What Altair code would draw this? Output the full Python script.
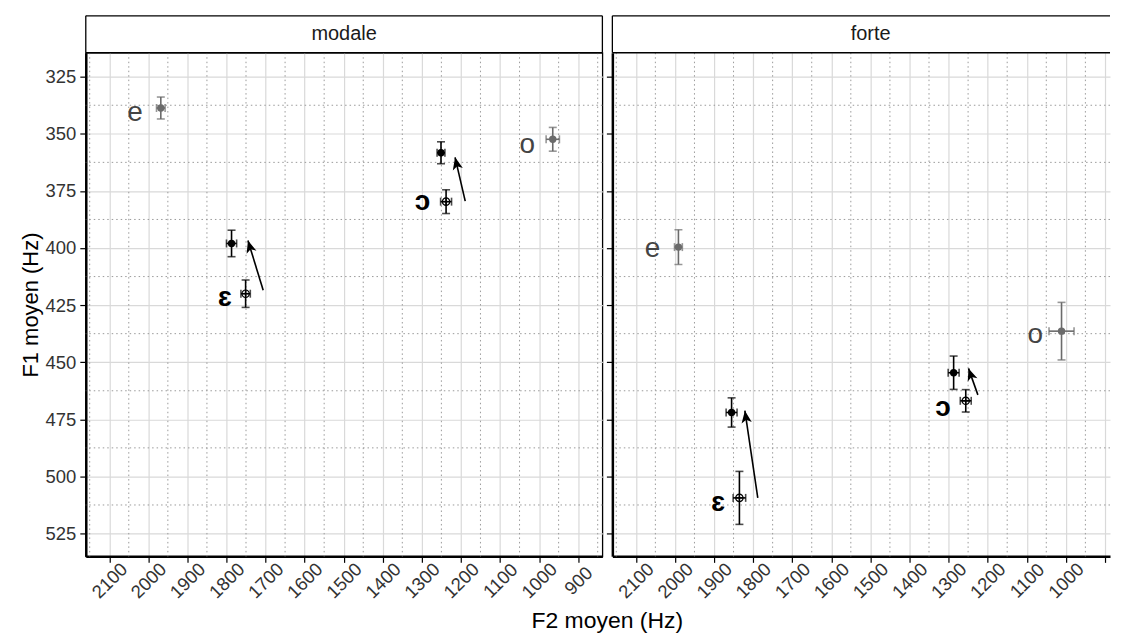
import math
import altair as alt
import pandas as pd

# ---------------- data ----------------
PANELS = ["modale", "forte"]

PT_PANEL = ["modale"] * 6 + ["forte"] * 6
PT_VOWEL = ["e", "o", "ɔ", "ɔ", "ɛ", "ɛ", "e", "o", "ɔ", "ɔ", "ɛ", "ɛ"]
PT_KIND = ["seul", "seul", "fin", "debut", "fin", "debut",
           "seul", "seul", "fin", "debut", "fin", "debut"]
PT_F2 = [1968, 965, 1251, 1238, 1787, 1751, 1991, 1011, 1287, 1256, 1855, 1835]
PT_F1 = [338.7, 352.4, 358.3, 379.7, 398.0, 420.0, 399.6, 436.4, 454.6, 466.9, 472.0, 509.4]
PT_F2_ERR = [11, 17, 10, 14, 13, 12, 10, 32, 14, 14, 14, 16]
PT_F1_ERR = [4.8, 5.2, 4.8, 5.2, 5.8, 6.0, 7.6, 12.6, 7.3, 4.9, 6.4, 11.6]

LB_PANEL = ["modale"] * 4 + ["forte"] * 4
LB_TEXT = ["e", "o", "ɔ", "ɛ", "e", "o", "ɔ", "ɛ"]
LB_F2 = [2034, 1030, 1298, 1804, 2057, 1078, 1314, 1889]
LB_F1 = [340.7, 354.7, 380.0, 421.9, 400.3, 438.1, 469.9, 511.6]

AR_PANEL = ["modale", "modale", "forte", "forte"]
AR_F2_FROM = [1706, 1189, 1788, 1225]
AR_F1_FROM = [418.5, 379.5, 509.4, 464.3]
AR_F2_TO = [1745, 1215, 1821, 1249]
AR_F1_TO = [396.7, 360.3, 471.2, 452.7]

X_TICKS = [2100, 2000, 1900, 1800, 1700, 1600, 1500, 1400, 1300, 1200, 1100, 1000, 900]
X_MINOR = [2150, 2050, 1950, 1850, 1750, 1650, 1550, 1450, 1350, 1250, 1150, 1050, 950, 850]
Y_TICKS = [325, 350, 375, 400, 425, 450, 475, 500, 525]
Y_MINOR = [337.5, 362.5, 387.5, 412.5, 437.5, 462.5, 487.5, 512.5]
X_DOMAIN = [838, 2160]
X_DOMAIN_CUT = [887, 2160]   # right panel is cut by the picture's right edge
Y_DOMAIN = [314.5, 535]

# ---------------- styling ----------------
W, H = 518, 505
W_CUT = 499
STRIP_H = 37
FONT = "Liberation Sans, Arial, DejaVu Sans"
KIND_DOMAIN = ["seul", "fin", "debut"]
KIND_COLORS = ["#6b6b6b", "black", "black"]
OPEN_SHAPE = "M-1,0A1,1,0,1,0,1,0A1,1,0,1,0,-1,0ZM-1,0L1,0M0,-1L0,1"
HEAD_SHAPE = "M0,0L0.42,1L0,0.75L-0.42,1Z"

pts = pd.DataFrame(dict(panel=PT_PANEL, vowel=PT_VOWEL, kind=PT_KIND,
                        f2=PT_F2, f1=PT_F1, e2=PT_F2_ERR, e1=PT_F1_ERR))
pts["f1lo"] = pts["f1"] - pts["e1"]
pts["f1hi"] = pts["f1"] + pts["e1"]
pts["f2lo"] = pts["f2"] - pts["e2"]
pts["f2hi"] = pts["f2"] + pts["e2"]

lbl = pd.DataFrame(dict(panel=LB_PANEL, text=LB_TEXT, f2=LB_F2, f1=LB_F1))

arr = pd.DataFrame(dict(panel=AR_PANEL, f2a=AR_F2_FROM, f1a=AR_F1_FROM,
                        f2b=AR_F2_TO, f1b=AR_F1_TO))
px_x = W / (X_DOMAIN[1] - X_DOMAIN[0])
px_y = H / (Y_DOMAIN[1] - Y_DOMAIN[0])


def _ang(r):
    dx = -(r.f2b - r.f2a) * px_x
    dy = (r.f1b - r.f1a) * px_y
    return math.degrees(math.atan2(dx, -dy)) % 360


arr["ang"] = arr.apply(_ang, axis=1)

ys = alt.Scale(domain=Y_DOMAIN, reverse=True, nice=False, zero=False)
cs = alt.Scale(domain=KIND_DOMAIN, range=KIND_COLORS)


def panel(name, first):
    width = W if first else W_CUT
    dom = X_DOMAIN if first else X_DOMAIN_CUT
    xs = alt.Scale(domain=dom, reverse=True, nice=False, zero=False)
    x_axis = alt.Axis(values=X_TICKS, title=None, labelAngle=315, labelAlign="center",
                      labelBaseline="middle", labelPadding=18, grid=True, format="d",
                      labelOverlap=False, labelFlush=False,
                      labelExpr="datum.label" if first else "datum.value == 900 ? '' : datum.label")
    y_axis = alt.Axis(values=Y_TICKS, title="F1 moyen (Hz)" if first else None,
                      labels=first, grid=True, format="d", labelPadding=4,
                      titlePadding=3, labelFlush=False)

    def X(f):
        return alt.X(f, type="quantitative", scale=xs, axis=x_axis)

    def Y(f):
        return alt.Y(f, type="quantitative", scale=ys, axis=y_axis)

    p = pts[pts["panel"] == name]
    pl = lbl[lbl["panel"] == name]
    pa = arr[arr["panel"] == name]
    color = alt.Color("kind:N", scale=cs, legend=None)

    xm = [v for v in X_MINOR if dom[0] <= v <= dom[1]]
    minor_x = alt.Chart(pd.DataFrame({"v": xm})).mark_rule(
        color="#9a9a9a", strokeWidth=1, strokeDash=[1.5, 3]).encode(x=X("v"))
    minor_y = alt.Chart(pd.DataFrame({"v": Y_MINOR})).mark_rule(
        color="#9a9a9a", strokeWidth=1, strokeDash=[1.5, 3]).encode(y=Y("v"))

    base = alt.Chart(p)
    lw = 1.6
    vbar = base.mark_rule(strokeWidth=lw).encode(x=X("f2"), y=Y("f1lo"), y2="f1hi", color=color)
    vcap1 = base.mark_tick(orient="horizontal", size=8, thickness=lw).encode(x=X("f2"), y=Y("f1lo"), color=color)
    vcap2 = base.mark_tick(orient="horizontal", size=8, thickness=lw).encode(x=X("f2"), y=Y("f1hi"), color=color)
    hbar = base.mark_rule(strokeWidth=lw).encode(y=Y("f1"), x=X("f2lo"), x2="f2hi", color=color)
    hcap1 = base.mark_tick(orient="vertical", size=8, thickness=lw).encode(y=Y("f1"), x=X("f2lo"), color=color)
    hcap2 = base.mark_tick(orient="vertical", size=8, thickness=lw).encode(y=Y("f1"), x=X("f2hi"), color=color)

    filled = alt.Chart(p[p["kind"] != "debut"]).mark_point(
        filled=True, shape="circle", size=55, opacity=1).encode(x=X("f2"), y=Y("f1"), color=color)
    opened = alt.Chart(p[p["kind"] == "debut"]).mark_point(
        filled=False, shape=OPEN_SHAPE, size=55, strokeWidth=1.2, opacity=1, color="black").encode(
        x=X("f2"), y=Y("f1"))

    arrow = alt.Chart(pa).mark_rule(strokeWidth=1.6, color="black").encode(
        x=X("f2a"), y=Y("f1a"), x2="f2b", y2="f1b")
    head = alt.Chart(pa).mark_point(shape=HEAD_SHAPE, filled=True, size=600, opacity=1,
                                    color="black").encode(
        x=X("f2b"), y=Y("f1b"), angle=alt.Angle("ang:Q", scale=None))

    txt_dark = alt.Chart(pl[pl["text"].isin(["ɛ", "ɔ"])]).mark_text(
        fontSize=28, fontWeight="bold", color="black", font=FONT, baseline="middle").encode(
        x=X("f2"), y=Y("f1"), text="text:N")
    txt_grey = alt.Chart(pl[pl["text"].isin(["e", "o"])]).mark_text(
        fontSize=28, color="#444444", font=FONT, baseline="middle").encode(
        x=X("f2"), y=Y("f1"), text="text:N")

    sdf = pd.DataFrame({"label": [name]})
    strip_bg = alt.Chart(sdf).mark_rect(fill="white").encode(
        x=alt.value(0), x2=alt.value(width), y=alt.value(-STRIP_H), y2=alt.value(0))
    strip_top = alt.Chart(sdf).mark_rule(color="black", strokeWidth=1.3).encode(
        x=alt.value(0), x2=alt.value(width), y=alt.value(-STRIP_H))
    strip_bot = alt.Chart(sdf).mark_rule(color="black", strokeWidth=1.3).encode(
        x=alt.value(0), x2=alt.value(width), y=alt.value(0))
    strip_left = alt.Chart(sdf).mark_rule(color="black", strokeWidth=1.3).encode(
        x=alt.value(0), y=alt.value(-STRIP_H), y2=alt.value(0))
    layers = [strip_bg, strip_top, strip_bot, strip_left]
    if first:
        strip_right = alt.Chart(sdf).mark_rule(color="black", strokeWidth=1.3).encode(
            x=alt.value(width), y=alt.value(-STRIP_H), y2=alt.value(0))
        layers.append(strip_right)
    strip_txt = alt.Chart(sdf).mark_text(fontSize=20, color="#1a1a1a", font=FONT, baseline="middle").encode(
        x=alt.value(W / 2), y=alt.value(-STRIP_H / 2), text="label:N")
    layers.append(strip_txt)

    ch = alt.layer(minor_x, minor_y, vbar, vcap1, vcap2, hbar, hcap1, hcap2,
                   filled, opened, arrow, head, txt_dark, txt_grey, *layers)
    if first:
        return ch.properties(width=width, height=H)
    return ch.properties(width=width, height=H, view=alt.ViewBackground(stroke="transparent"))


left = panel(PANELS[0], True)
right = panel(PANELS[1], False)

chart = alt.hconcat(left, right, spacing=10, bounds="flush").properties(
    title=alt.TitleParams("F2 moyen (Hz)", orient="bottom", anchor="middle", fontSize=23,
                          font=FONT, fontWeight="normal", color="black", offset=8, dx=42),
    padding={"left": 10, "top": 5, "right": 0, "bottom": 0},
).configure(background="white").configure_view(
    stroke="black", strokeWidth=1.3
).configure_axis(
    domainColor="black", domainWidth=2.5, tickColor="black", tickWidth=1.2, tickSize=6,
    labelFont=FONT, labelFontSize=18.5, labelColor="#333333",
    gridColor="#d9d9d9", gridWidth=1.2,
    titleFont=FONT, titleFontSize=22, titleFontWeight="normal", titleColor="black",
)

chart.save("out.html", embed_options={"renderer": "svg", "actions": False})
